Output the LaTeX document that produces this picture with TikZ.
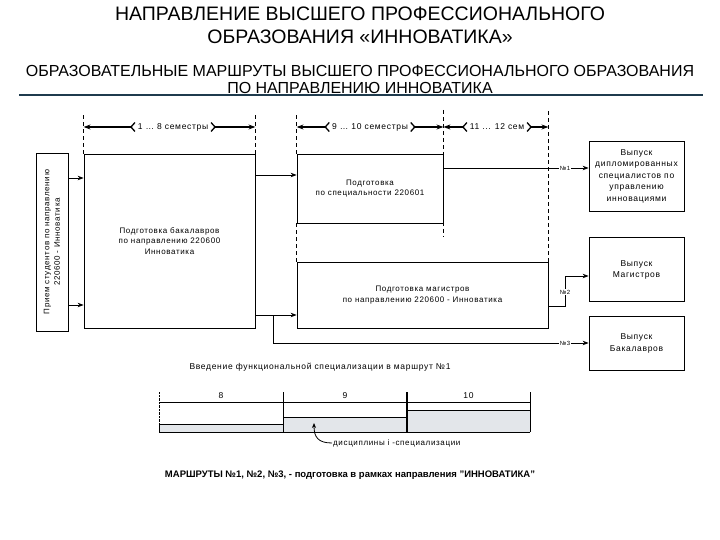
\documentclass[tikz,border=0pt]{standalone}
\usepackage{fontspec}
\setmainfont{Liberation Sans}
\newfontfamily\shema[LetterSpace=8]{Liberation Sans}
\usetikzlibrary{arrows.meta, positioning}
\definecolor{lineya}{HTML}{1F3B4D}
\definecolor{zalivka}{HTML}{E3E6EA}
\tikzset{
  blok/.style = {draw, line width=0.8pt, align=center, inner sep=1pt,
    font=\shema\fontsize{8}{10.5}\selectfont},% прямоугольник этапа
  vypusk/.style = {blok, minimum width=95pt,
    font=\shema\fontsize{8.5}{11.5}\selectfont},% блок выпуска
  nomer/.style = {inner sep=1pt, font=\shema\fontsize{6}{7}\selectfont},% номер маршрута
  strelka/.style = {-{Stealth[length=6pt, width=4.5pt]}, line width=0.8pt},
  granica/.style = {dash pattern=on 4pt off 3pt, line width=0.6pt},% граница семестров
  razmer/.style = {{Straight Barb[reversed, length=4pt, width=9pt]}-{Stealth[length=7pt, width=5pt]},
    line width=1.3pt},
  semestr/.style = {inner sep=2pt, font=\shema\fontsize{8.5}{10}\selectfont}
}

\begin{document}
\begin{tikzpicture}[x=1pt, y=-1pt]
  \useasboundingbox (0,0) rectangle (720,540);
  % заголовок
  \node (zag) [align=center, font=\fontsize{19.5}{23}\selectfont] at (360,25)
    {НАПРАВЛЕНИЕ ВЫСШЕГО ПРОФЕССИОНАЛЬНОГО\\ОБРАЗОВАНИЯ «ИННОВАТИКА»};
  \node (podzag) [align=center, font=\fontsize{16}{17}\selectfont] at (360,79)
    {ОБРАЗОВАТЕЛЬНЫЕ МАРШРУТЫ ВЫСШЕГО ПРОФЕССИОНАЛЬНОГО ОБРАЗОВАНИЯ\\ПО НАПРАВЛЕНИЮ ИННОВАТИКА};
  \draw[line width=2.5pt, lineya] (19,95) -- (703,95);

  % этапы обучения
  \node (priem) [blok, rotate=90, minimum width=178pt, minimum height=32pt] at (52,242)
    {Прием студентов по направлению\\220600 - Инноватика};
  \node (bak) [blok, minimum width=171pt, minimum height=174pt] at (169.5,241)
    {Подготовка бакалавров\\по направлению  220600\\Инноватика};
  \node (spec) [blok, minimum width=146pt, minimum height=69pt] at (370,188.5)
    {Подготовка\\по специальности  220601};
  \node (mag) [blok, minimum width=251pt, minimum height=66pt] at (422.5,295)
    {Подготовка магистров\\по направлению 220600 - Инноватика};

  % выпуск
  \node (vyp1) [vypusk, minimum height=70pt] at (636.5,176)
    {Выпуск\\дипломированных\\специалистов по\\управлению\\инновациями};
  \node (vyp2) [vypusk, minimum height=64pt, below=26pt of vyp1] {Выпуск\\Магистров};
  \node (vyp3) [vypusk, minimum height=54pt, below=14pt of vyp2] {Выпуск\\Бакалавров};

  % границы семестров
  \draw[granica] (bak.north west) -- ++(0,-39);
  \draw[granica] (bak.north east) -- ++(0,-39);
  \draw[granica] (spec.north west) -- ++(0,-39);
  \draw[granica] (spec.south west) -- (mag.north west);
  \draw[granica, line width=1.4pt] (spec.east |- 0,110) -- (spec.east |- 0,237);
  \draw[granica] (mag.north east) -- (mag.east |- 0,110);

  \node (sem1) [semestr] at (173,127) {1 … 8 семестры};
  \draw[razmer] (sem1.west) -- (bak.west |- sem1);
  \draw[razmer] (sem1.east) -- (bak.east |- sem1);
  \node (sem2) [semestr] at (370,127) {9 … 10 семестры};
  \draw[razmer] (sem2.west) -- (spec.west |- sem2);
  \draw[razmer] (sem2.east) -- (spec.east |- sem2);
  \node (sem3) [semestr] at (497,127) {11 ... 12 сем};
  \draw[razmer] (sem3.west) -- (spec.east |- sem3);
  \draw[razmer] (sem3.east) -- (mag.east |- sem3);

  % связи
  \draw[strelka] (priem.south |- 0,178) -- (bak.west |- 0,178);
  \draw[strelka] (priem.south |- 0,305) -- (bak.west |- 0,305);
  \draw[strelka] (bak.east |- 0,175) -- (spec.west |- 0,175);
  \draw[strelka] (bak.east |- 0,315) -- (mag.west |- 0,315);

  \node (n1) [nomer] at (565,168) {№1};
  \draw (spec.east |- n1) -- (n1.west);
  \draw[strelka] (n1.east) -- (vyp1.west |- n1);
  \node (n2) [nomer] at (565,292) {№2};
  \draw (mag.east |- 0,306) -| (n2.south);
  \draw[strelka] (n2.north) |- (vyp2.west |- 0,276);
  \coordinate (razv) at (273,315);
  \node (n3) [nomer] at (565,343) {№3};
  \draw (razv) |- (n3.west);
  \draw[strelka] (n3.east) -- (vyp3.west |- n3);

  % функциональная специализация
  \node (vvod) [font=\shema\fontsize{8.5}{10}\selectfont] at (320,367)
    {Введение функциональной специализации в маршрут №1};
  \fill[zalivka] (159,424) rectangle (283,432);
  \fill[zalivka] (283,417) rectangle (407,432);
  \fill[zalivka] (407,410) rectangle (530,432);
  \draw (159,402) -- (530,402);
  \draw (159,432) -- (530,432);
  \draw (159,424) -- (283,424);
  \draw (283,417) -- (407,417);
  \draw (407,410) -- (530,410);
  \draw[densely dotted] (159,392) -- (159,424);
  \draw (159,424) -- (159,432);
  \draw (283,392) -- (283,432);
  \draw[line width=1.5pt] (407,392) -- (407,432);
  \draw (530,392) -- (530,432);
  \foreach \x/\n in {221/8, 345/9, 468.5/10}
    \node (s\n) [font=\shema\fontsize{8.5}{10}\selectfont] at (\x,396) {\n};

  \node (disc) [anchor=west, inner sep=1pt, font=\shema\fontsize{8}{10}\selectfont] at (332,443)
    {дисциплины i -специализации};
  \draw[-{Stealth[length=5pt, width=4pt]}, line width=0.8pt] (disc.west)
    .. controls (318,443) and (314,437) .. (314,423);

  \node (itog) [font=\bfseries\fontsize{9.5}{11}\selectfont] at (350,475)
    {МАРШРУТЫ №1, №2, №3,  - подготовка в рамках направления "ИННОВАТИКА"};
\end{tikzpicture}
\end{document}
